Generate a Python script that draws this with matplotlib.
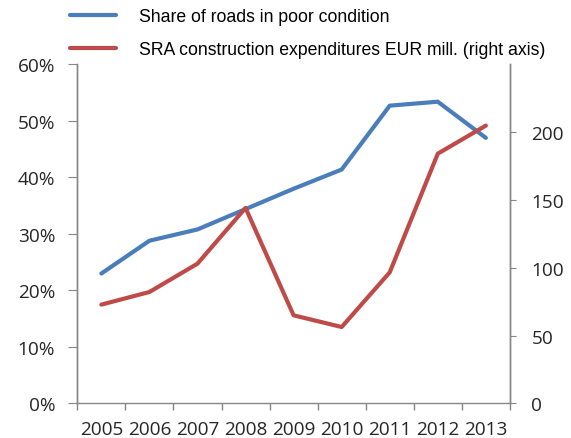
import matplotlib
matplotlib.use("Agg")
import matplotlib.pyplot as plt
from matplotlib.ticker import FuncFormatter, FixedLocator
from matplotlib import font_manager

years = ["2005", "2006", "2007", "2008", "2009", "2010", "2011", "2012", "2013"]
share_poor = [23.0, 28.8, 30.8, 34.4, 38.0, 41.4, 52.7, 53.4, 47.0]
sra_expenditures = [72.9, 82.2, 103.1, 144.2, 65.0, 56.4, 96.7, 184.2, 204.9]

blue = "#4A7EBB"
red = "#BE4B48"
gray = "#868686"

names = {f.name for f in font_manager.fontManager.ttflist}
legend_font = "Liberation Sans Narrow" if "Liberation Sans Narrow" in names else "Liberation Sans"
tick_font = "Open Sans"

fig = plt.figure(figsize=(5.71, 4.39), dpi=100)
ax = fig.add_axes([0.1354, 0.0786, 0.7576, 0.7724])
ax2 = ax.twinx()

x = list(range(len(years)))
l1, = ax.plot(x, share_poor, color=blue, lw=3.0, solid_capstyle="round",
              label="Share of roads in poor condition")
l2, = ax2.plot(x, sra_expenditures, color=red, lw=3.0, solid_capstyle="round",
               label="SRA construction expenditures EUR mill. (right axis)")

ax.set_xlim(-0.5, len(years) - 0.5)
ax.set_ylim(0, 60)
ax2.set_ylim(0, 250)
ax.set_yticks(range(0, 61, 10))
ax.yaxis.set_major_formatter(FuncFormatter(lambda v, p: f"{int(v)}%"))
ax2.set_yticks([0, 50, 100, 150, 200])

ax.set_xticks(x)
ax.set_xticklabels(years)
ax.xaxis.set_minor_locator(FixedLocator([i - 0.5 for i in range(len(years) + 1)]))
ax.tick_params(axis="x", which="major", length=0, pad=12)
ax.tick_params(axis="x", which="minor", length=5, color=gray, width=1)

for a in (ax, ax2):
    for s in a.spines.values():
        s.set_color(gray)
        s.set_linewidth(1)
    a.spines["top"].set_visible(False)
ax2.spines["bottom"].set_visible(False)

ax.tick_params(axis="y", length=6.5, color=gray, pad=9.4)
ax2.tick_params(axis="y", length=4, color=gray, pad=11.5)

for lab in ax.get_xticklabels() + ax.get_yticklabels() + ax2.get_yticklabels():
    lab.set_fontfamily(tick_font)
    lab.set_fontsize(13.7)
    lab.set_color("#262626")

fig.legend(handles=[l1, l2], loc="upper left", bbox_to_anchor=(0.095, 1.015),
           frameon=False, handlelength=2.6, handletextpad=1.3, labelspacing=0.9,
           prop={"family": legend_font, "size": 12.7})

fig.savefig("out.png", dpi=100)
